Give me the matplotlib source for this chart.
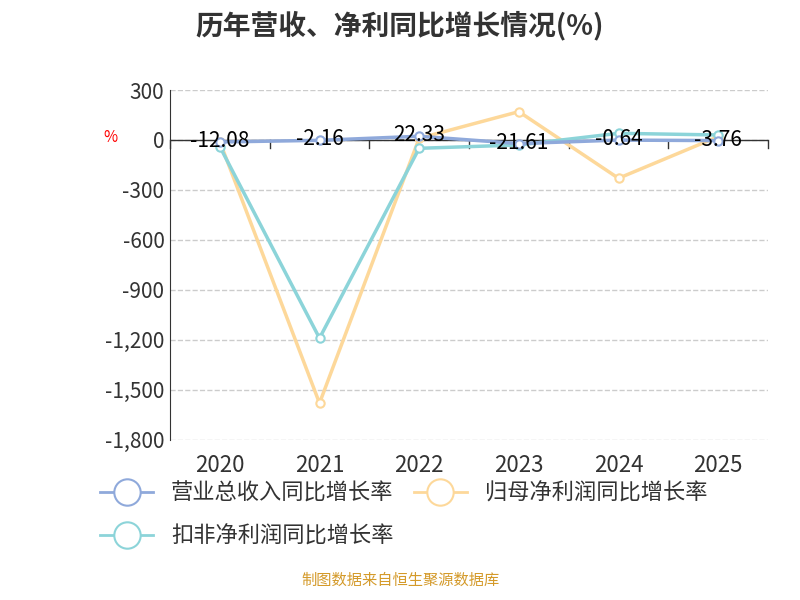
import matplotlib.pyplot as plt
from matplotlib.lines import Line2D

plt.rcParams['font.family'] = ['Noto Sans CJK SC', 'DejaVu Sans']

years = ['2020', '2021', '2022', '2023', '2024', '2025']
revenue = [-12.08, -2.16, 22.33, -21.61, -0.64, -3.76]
net_profit = [-10, -1580, 10, 170, -230, 20]
deducted = [-40, -1190, -50, -30, 40, 30]

c_rev = '#8fa9db'
c_net = '#fdd89a'
c_ded = '#8cd4d9'

fig = plt.figure(figsize=(8, 6), dpi=100)
ax = fig.add_axes([0.2125, 0.267, 0.7475, 0.583])
x = range(len(years))

for vals, c in [(net_profit, c_net), (deducted, c_ded), (revenue, c_rev)]:
    ax.plot(x, vals, color=c, lw=2.5, marker='o', ms=6, mfc='white', mec=c, mew=1.5, zorder=3)

for i, v in enumerate(revenue):
    ax.text(i, v + 5, f'{v:.2f}', ha='center', va='center', fontsize=15, color='black', zorder=5)

ax.set_xlim(-0.5, 5.5)
ax.set_ylim(-1800, 300)
yt = [300, 0, -300, -600, -900, -1200, -1500, -1800]
ax.set_yticks(yt)
ax.set_yticklabels([f'{t:,}' for t in yt], fontsize=15, color='#333333')
ax.set_xticks(list(x))
ax.set_xticklabels(years, fontsize=16, color='#333333')
ax.tick_params(axis='x', length=0, pad=10)
ax.tick_params(axis='y', length=0, pad=4)
ax.grid(axis='y', ls='--', color='#cccccc', lw=1)
for s in ['top', 'right', 'bottom']:
    ax.spines[s].set_visible(False)
ax.spines['left'].set_color('#333333')
ax.axhline(0, color='#333333', lw=1, zorder=2)
for b in [i - 0.5 for i in range(7)]:
    ax.plot([b, b], [0, -50], color='#333333', lw=1, zorder=2, clip_on=False)
ax.text(-0.1, 0.85, '%', transform=ax.transAxes, color='red', fontsize=11, ha='center')

fig.text(0.5, 0.958, '历年营收、净利同比增长情况(%)', ha='center', va='center',
         fontsize=20, fontweight='bold', color='#333333')

handles = [Line2D([], [], color=c, lw=2, marker='o', ms=19, mfc='white', mec=c, mew=1.5)
           for c in (c_rev, c_net, c_ded)]
labels = ['营业总收入同比增长率', '归母净利润同比增长率', '扣非净利润同比增长率']
fig.legend(handles[:2], labels[:2], loc='center left', bbox_to_anchor=(0.1, 0.178), ncol=2,
           frameon=False, fontsize=16, handlelength=2.4, columnspacing=0.9, labelcolor='#333333')
fig.legend(handles[2:], labels[2:], loc='center left', bbox_to_anchor=(0.1, 0.107),
           frameon=False, fontsize=16, handlelength=2.4, labelcolor='#333333')

fig.text(0.5, 0.018, '制图数据来自恒生聚源数据库', ha='center', va='bottom', fontsize=11, color='#d49a2a')

fig.savefig('out.png')
